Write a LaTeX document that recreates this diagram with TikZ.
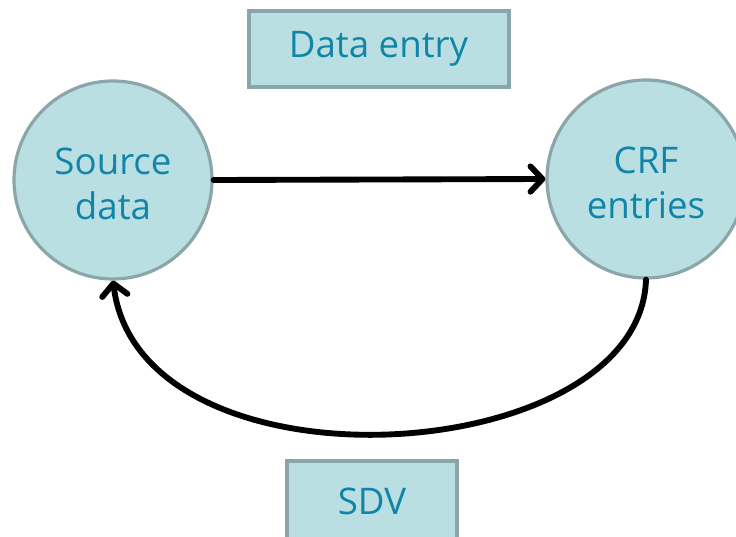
\documentclass[tikz,border=0pt]{standalone}
\usepackage{fontspec}
\setmainfont{Open Sans}
\usetikzlibrary{arrows.meta}
\definecolor{boxfill}{HTML}{B9DFE3}
\definecolor{boxline}{HTML}{8BA6A9}
\definecolor{boxtext}{HTML}{1185A8}
\newcommand{\stagetext}[1]{\raisebox{-12pt}[0pt][0pt]{\begin{tabular}{@{}c@{}}#1\end{tabular}}}
\begin{document}
\begin{tikzpicture}[x=0.75pt,y=-0.75pt,
  every node/.style={font=\fontsize{27.5}{34}\selectfont, text=boxtext, align=center},
  labelbox/.style={draw=boxline, fill=boxfill, line width=3pt, inner sep=0pt},
  stage/.style={circle, draw=boxline, fill=boxfill, line width=2.4pt, minimum size=198*0.75pt, inner sep=0pt},
  flow/.style={line width=4.4pt, black, line cap=round, -{Straight Barb[length=9pt,width=19pt,line cap=round,line join=round]}}]
\useasboundingbox (0,0) rectangle (736,536);
\clip (0,0) rectangle (736,536);
% stages; the two-line texts sit a little below the centre
\node[stage] (src) at (113,180) {\stagetext{Source\\data}};
\node[stage] (crf) at (646,179) {\stagetext{CRF\\entries}};
% labels of the two flows
\node[labelbox, minimum width=260*0.75pt, minimum height=76*0.75pt] (entry) at (378.5,48.5) {Data entry};
\node[labelbox, minimum width=170*0.75pt, minimum height=80*0.75pt] (sdv) at (372,501) {SDV};
% flows
\draw[flow] (src.east) -- (crf.west);
\draw[flow] (crf.south) .. controls (640,470) and (140,500) .. (src.south);
\end{tikzpicture}
\end{document}
